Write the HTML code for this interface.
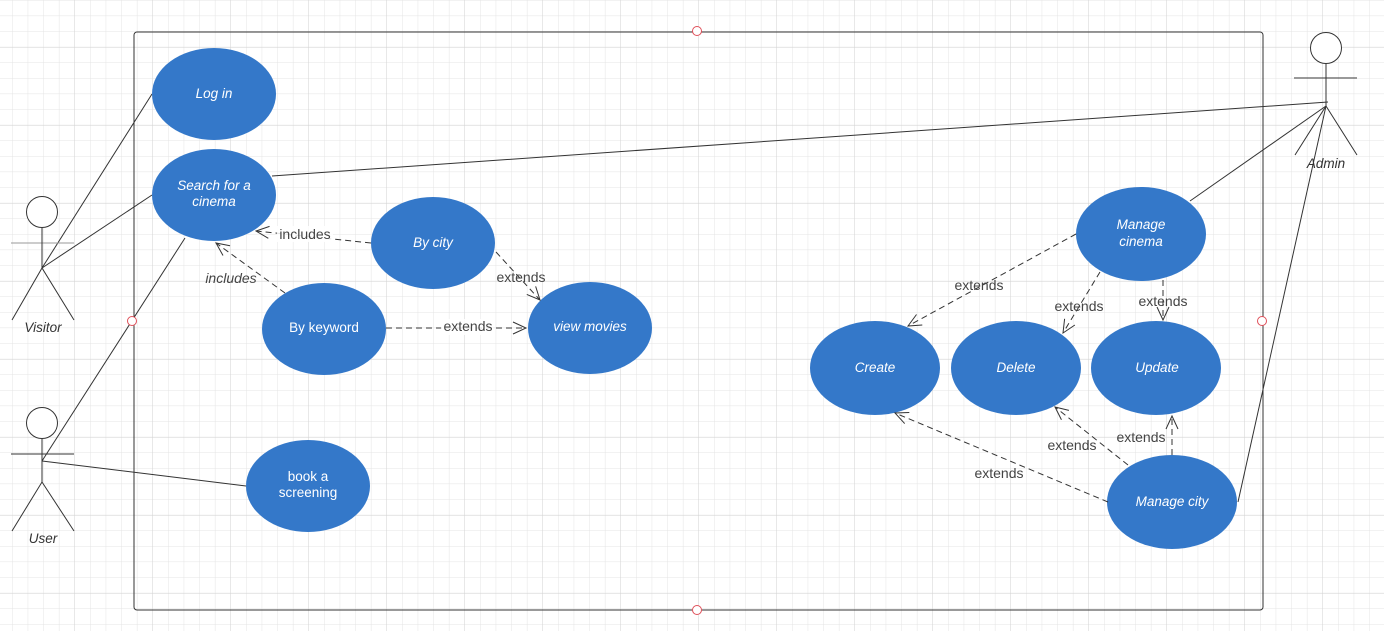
<!DOCTYPE html>
<html><head><meta charset="utf-8"><style>
html,body{margin:0;padding:0;background:#fff}
svg{display:block}
text{font-family:"Liberation Sans",sans-serif}
</style></head><body>
<svg width="1384" height="631" viewBox="0 0 1384 631" xmlns="http://www.w3.org/2000/svg">
<defs>
<pattern id="g" width="15.6" height="15.6" patternUnits="userSpaceOnUse" x="-3.5" y="0">
<path d="M0 0H15.6M0 0V15.6" stroke="#e4e4e4" stroke-width="1" fill="none"/>
</pattern>
<pattern id="G" width="78" height="78" patternUnits="userSpaceOnUse" x="-3.5" y="-31">
<path d="M0 0H78M0 0V78" stroke="#d2d2d2" stroke-width="1" fill="none"/>
</pattern>
<marker id="a" markerWidth="16" markerHeight="16" refX="14" refY="8" orient="auto" markerUnits="userSpaceOnUse">
<path d="M1 2 L14 8 L1 14" fill="none" stroke="#333" stroke-width="1"/>
</marker>
</defs>
<rect width="1384" height="631" fill="url(#g)"/>
<rect width="1384" height="631" fill="url(#G)"/>
<rect x="134" y="32" width="1129" height="578" rx="3" fill="none" stroke="#333" stroke-width="1"/>

<g stroke="#333" stroke-width="1" fill="none">
<line x1="42" y1="268" x2="152" y2="94"/>
<line x1="42" y1="268" x2="152" y2="195"/>
<line x1="42" y1="461" x2="185" y2="238"/>
<line x1="42" y1="461" x2="246" y2="486"/>
<line x1="272" y1="176" x2="1328" y2="102"/>
<line x1="1190" y1="201" x2="1326" y2="106"/>
<line x1="1238" y1="502" x2="1326" y2="106"/>
<circle cx="42" cy="212" r="15.5" fill="#fff"/>
<line x1="11" y1="243" x2="74" y2="243" stroke="#999"/>
<line x1="42" y1="228" x2="42" y2="268"/>
<path d="M12 320 L42 268 L74 320"/>
<circle cx="42" cy="423" r="15.5" fill="#fff"/>
<line x1="11" y1="454" x2="74" y2="454"/>
<line x1="42" y1="439" x2="42" y2="482"/>
<path d="M12 531 L42 482 L74 531"/>
<circle cx="1326" cy="48" r="15.5" fill="#fff"/>
<line x1="1294" y1="78" x2="1357" y2="78"/>
<line x1="1326" y1="64" x2="1326" y2="106"/>
<path d="M1295 155 L1326 106 L1357 155"/>
</g>

<g fill="#3478c9">
<ellipse cx="214" cy="94" rx="62" ry="46"/>
<ellipse cx="214" cy="195" rx="62" ry="46"/>
<ellipse cx="433" cy="243" rx="62" ry="46"/>
<ellipse cx="324" cy="329" rx="62" ry="46"/>
<ellipse cx="590" cy="328" rx="62" ry="46"/>
<ellipse cx="308" cy="486" rx="62" ry="46"/>
<ellipse cx="1141" cy="234" rx="65" ry="47"/>
<ellipse cx="875" cy="368" rx="65" ry="47"/>
<ellipse cx="1016" cy="368" rx="65" ry="47"/>
<ellipse cx="1156" cy="368" rx="65" ry="47"/>
<ellipse cx="1172" cy="502" rx="65" ry="47"/>
</g>

<g stroke="#333" stroke-width="1" fill="none" stroke-dasharray="6 4" marker-end="url(#a)">
<line x1="371" y1="243" x2="256" y2="231"/>
<line x1="285" y1="293" x2="216" y2="243"/>
<line x1="496" y1="252" x2="540" y2="300"/>
<line x1="386" y1="328" x2="526" y2="328"/>
<line x1="1076" y1="234" x2="908" y2="326"/>
<line x1="1100" y1="272" x2="1063" y2="333"/>
<line x1="1163" y1="280" x2="1163" y2="320"/>
<line x1="1108" y1="502" x2="895" y2="413"/>
<line x1="1128" y1="465" x2="1055" y2="407"/>
<line x1="1172" y1="455" x2="1172" y2="416"/>
</g>

<g font-size="14" fill="#444" text-anchor="middle">
<rect x="277" y="226" width="56" height="16" fill="#fff" opacity="0.85"/>
<text x="305" y="239">includes</text>
<text x="231" y="283" font-style="italic">includes</text>
<text x="521" y="282">extends</text>
<rect x="441" y="319" width="52" height="16" fill="#fff" opacity="0.85"/>
<text x="468" y="331">extends</text>
<text x="979" y="290">extends</text>
<text x="1079" y="311">extends</text>
<text x="1163" y="306">extends</text>
<text x="1141" y="442">extends</text>
<text x="1072" y="450">extends</text>
<text x="999" y="478">extends</text>
</g>

<g font-size="13.5" fill="#fff" text-anchor="middle" font-style="italic">
<text x="214" y="98">Log in</text>
<text x="214" y="190">Search for a</text>
<text x="214" y="206">cinema</text>
<text x="433" y="247">By city</text>
<text x="324" y="332" font-style="normal">By keyword</text>
<text x="590" y="331">view  movies</text>
<text x="308" y="481" font-style="normal">book a</text>
<text x="308" y="497" font-style="normal">screening</text>
<text x="1141" y="229">Manage</text>
<text x="1141" y="246">cinema</text>
<text x="875" y="372">Create</text>
<text x="1016" y="372">Delete</text>
<text x="1157" y="372">Update</text>
<text x="1172" y="506">Manage city</text>
</g>

<g font-size="13.5" fill="#333" text-anchor="middle" font-style="italic">
<text x="43" y="332">Visitor</text>
<text x="43" y="543">User</text>
<text x="1326" y="168">Admin</text>
</g>

<g fill="#fff" stroke="#e0505a" stroke-width="1">
<circle cx="697" cy="31" r="4.5"/>
<circle cx="697" cy="610" r="4.5"/>
<circle cx="132" cy="321" r="4.5"/>
<circle cx="1262" cy="321" r="4.5"/>
</g>
</svg>
</body></html>
